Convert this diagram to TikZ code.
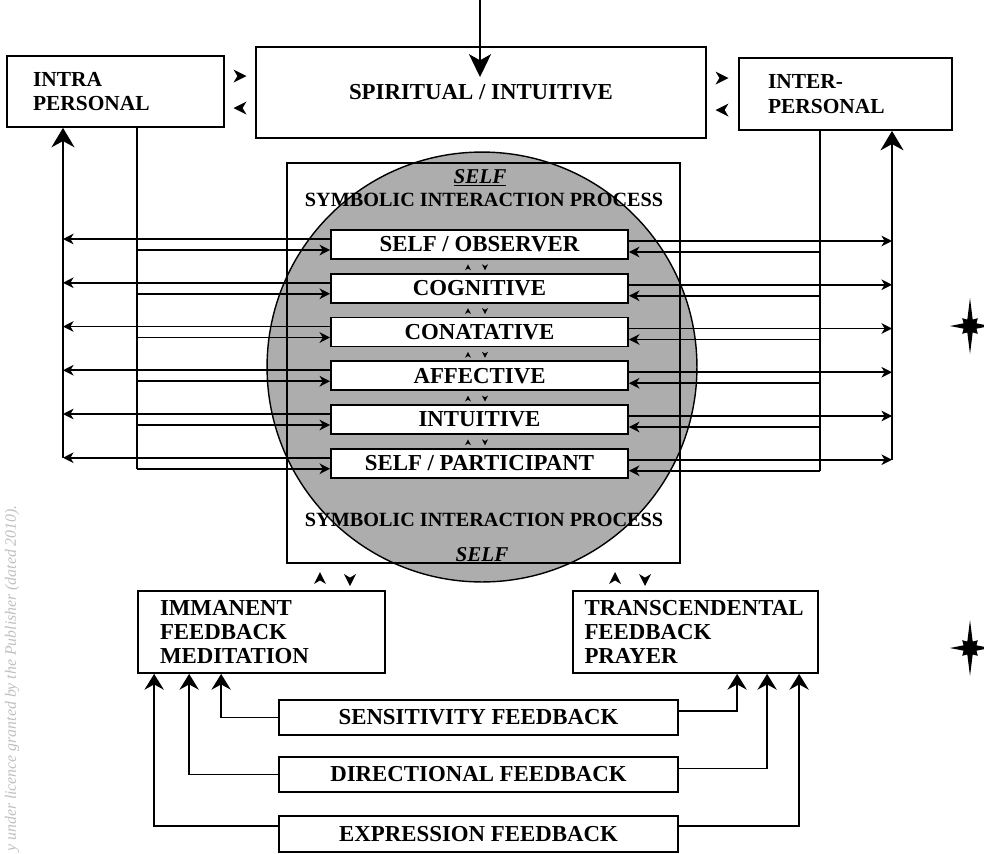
\documentclass[tikz,border=0pt]{standalone}
\usepackage{fontspec}
\setmainfont{Liberation Serif}
\usetikzlibrary{positioning}
\usetikzlibrary{arrows.meta}

\tikzstyle{plainbox} = [draw, line width=1pt, inner sep=0pt, font=\bfseries\fontsize{13}{13.5}\selectfont]
\tikzstyle{layer} = [plainbox, fill=white, minimum width=5.94cm, minimum height=0.58cm]
\tikzstyle{fbbox} = [plainbox, minimum width=7.98cm, minimum height=0.7cm]
\tikzstyle{textbox} = [plainbox, align=left]
\tikzstyle{line} = [draw, line width=1pt]
\tikzstyle{harrow} = [draw, line width=1.1pt, -{Stealth[length=6pt,width=6pt,inset=1.8pt]}]
\tikzstyle{bigup} = [draw, line width=1.6pt, -{Stealth[length=11pt,width=13pt,inset=3.5pt]}]
\tikzstyle{fbup} = [draw, line width=1pt, -{Stealth[length=9pt,width=11pt,inset=3pt]}]

% loose arrow heads and the compass stars
\newcommand{\chev}[3]{\fill[shift={(#1)}, rotate=#2, scale=#3] (-1,-1) -- (1,0) -- (-1,1) -- (-0.4,0) -- cycle;}
\newcommand{\compass}[1]{\fill[shift={(#1)}] (0:20) -- (22.5:7) -- (45:11) -- (67.5:7) -- (90:28) -- (112.5:7) -- (135:11) -- (157.5:7) -- (180:20) -- (202.5:7) -- (225:11) -- (247.5:7) -- (270:28) -- (292.5:7) -- (315:11) -- (337.5:7) -- cycle;}

\begin{document}
\begin{tikzpicture}[x=0.02cm, y=-0.02cm]
\useasboundingbox (0,0) rectangle (984,853);

% self sphere and frame
\node[circle, draw, line width=0.8pt, fill=black!32, minimum size=8.6cm, inner sep=0pt] (sphere) at (482,367) {};
\node[draw, line width=1pt, minimum width=7.86cm, minimum height=8cm] (selfbox) at (483.5,363) {};
\node[font=\bfseries\itshape\fontsize{12}{13}\selectfont] (selftop) at (480,178) {\underline{SELF}};
\node[font=\bfseries\fontsize{11.5}{13}\selectfont] (siptop) at (484,200) {SYMBOLIC INTERACTION PROCESS};
\node[font=\bfseries\fontsize{11.5}{13}\selectfont] (sipbot) at (484,520) {SYMBOLIC INTERACTION PROCESS};
\node[font=\bfseries\itshape\fontsize{12}{13}\selectfont] (selfbot) at (482,556) {\underline{SELF}};

% top row
\node[plainbox, minimum width=9cm, minimum height=1.82cm] (spirit) at (481,92.5) {SPIRITUAL / INTUITIVE};
\node[textbox, font=\bfseries\fontsize{12.2}{14.2}\selectfont, minimum height=1.42cm, text width=3.3cm, inner xsep=0.52cm] (intra) at (115.5,91.5) {INTRA\\PERSONAL};
\node[textbox, font=\bfseries\fontsize{12.2}{14.2}\selectfont, minimum height=1.44cm, text width=3.1cm, inner xsep=0.58cm] (inter) at (845.5,94) {INTER-\\PERSONAL};

% levels
\node[layer] (obs) at (479.5,244.5) {SELF / OBSERVER};
\node[layer, below=0.26cm of obs] (cog) {COGNITIVE};
\node[layer, below=0.26cm of cog] (con) {CONATATIVE};
\node[layer, below=0.26cm of con] (aff) {AFFECTIVE};
\node[layer, below=0.26cm of aff] (int) {INTUITIVE};
\node[layer, below=0.26cm of int] (par) {SELF / PARTICIPANT};

% feedback
\node[textbox, minimum height=1.64cm, text width=4.06cm, inner xsep=0.44cm] (imm) at (261.5,632) {IMMANENT\\FEEDBACK\\MEDITATION};
\node[textbox, minimum height=1.64cm, text width=4.44cm, inner xsep=0.23cm] (trans) at (695.5,632) {TRANSCENDENTAL\\FEEDBACK\\PRAYER};
\node[fbbox] (sens) at (478.5,717.5) {SENSITIVITY FEEDBACK};
\node[fbbox, below=0.405cm of sens] (dir) {DIRECTIONAL FEEDBACK};
\node[fbbox, below=0.445cm of dir, minimum height=0.72cm] (expr) {EXPRESSION FEEDBACK};

% arrows
\coordinate (top) at (480,0);
\draw[draw, line width=1.6pt, -{Stealth[length=13pt,width=12.5pt,inset=3.5pt]}, shorten >=8.8pt] (top) -- (top |- spirit.center);

\coordinate (lout) at (63,458);
\coordinate (lin) at (137,469);
\coordinate (rout) at (892,460);
\coordinate (rin) at (820,471);
\draw[bigup] (lout) -- (lout |- intra.south);
\draw[line] (intra.south -| lin) -- (lin);
\draw[bigup] (rout) -- (rout |- inter.south);
\draw[line] (inter.south -| rin) -- (rin);

\foreach \n in {obs,cog,con,aff,int,par}{
  \path ([yshift=0.11cm]\n.west) coordinate (lu) ([yshift=-0.11cm]\n.west) coordinate (ll)
        ([yshift=0.07cm]\n.east) coordinate (ru) ([yshift=-0.15cm]\n.east) coordinate (rl);
  \draw[harrow] (lu) -- (lu -| lout);
  \draw[harrow] (ll -| lin) -- (ll);
  \draw[harrow] (ru) -- (ru -| rout);
  \draw[harrow] (rl -| rin) -- (rl);
}
\foreach \n in {obs,cog,con,aff,int}{
  \chev{[xshift=-0.23cm, yshift=-0.148cm]\n.south}{90}{3}
  \chev{[xshift=0.11cm, yshift=-0.148cm]\n.south}{-90}{3}
}

\chev{240,76}{0}{6.5}
\chev{240,108}{180}{6.5}
\chev{722,78}{0}{6.5}
\chev{722,110}{180}{6.5}
\chev{320,578}{90}{6}
\chev{350,580}{-90}{6}
\chev{615,578}{90}{6}
\chev{645,580}{-90}{6}

\draw[fbup] (sens.west) -| ([xshift=1.68cm]imm.south west);
\draw[fbup] (dir.west) -| ([xshift=1.04cm]imm.south west);
\draw[fbup] ([yshift=0.16cm]expr.west) -| ([xshift=0.34cm]imm.south west);
\draw[fbup] ([yshift=0.13cm]sens.east) -| ([xshift=3.3cm]trans.south west);
\draw[fbup] ([yshift=0.12cm]dir.east) -| ([xshift=3.9cm]trans.south west);
\draw[fbup] ([yshift=0.16cm]expr.east) -| ([xshift=4.54cm]trans.south west);

\compass{970,326}
\compass{970,648}

\node[rotate=90, anchor=west, font=\itshape\fontsize{9}{10}\selectfont, text=gray!50, inner sep=0pt] (credit) at (12,852) {y under licence granted by the Publisher (dated 2010).};
\end{tikzpicture}
\end{document}
